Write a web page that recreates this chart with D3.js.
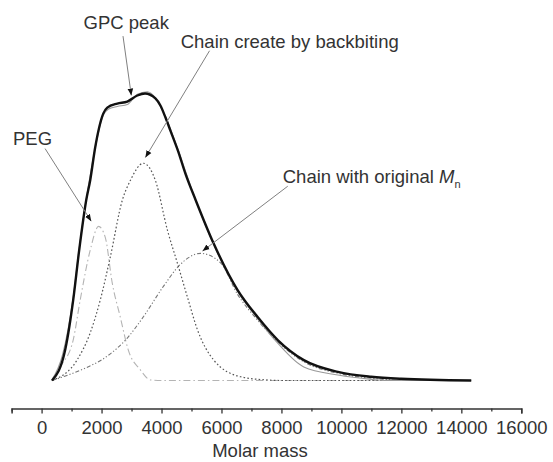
<!DOCTYPE html>
<html>
<head>
<meta charset="utf-8">
<script src="https://cdn.jsdelivr.net/npm/d3@7"></script>
<style>
  html, body { margin: 0; padding: 0; background: #fff; }
  svg { display: block; }
  text { font-family: "Liberation Sans", Arial, Helvetica, sans-serif; fill: #333; }
</style>
</head>
<body>
<svg id="chart" width="553" height="462"></svg>
<script>
// ---- Data (molar mass, normalized intensity) ----
const sumMass = [350, 786, 1054, 1254, 1488, 1622, 1789, 2057, 2191, 2525, 2860, 3194, 3450, 3796, 3963, 4130, 4300, 4550, 4800, 5134, 5736, 6538, 7207, 7876, 8746, 9883, 10987, 11990, 14331];
const sumValue = [0, 0.106, 0.28, 0.454, 0.628, 0.698, 0.813, 0.93, 0.951, 0.965, 0.972, 0.993, 1.0, 0.983, 0.958, 0.917, 0.87, 0.8, 0.72, 0.63, 0.478, 0.315, 0.221, 0.141, 0.071, 0.03, 0.013, 0.006, 0];

const gpcMass = [330, 700, 1054, 1254, 1488, 1789, 2057, 2224, 2525, 2860, 3194, 3528, 3796, 4130, 4532, 5134, 5736, 6538, 7207, 7876, 8746, 9883, 11000, 11500, 14331];
const gpcValue = [0, 0.09, 0.29, 0.46, 0.63, 0.81, 0.925, 0.945, 0.955, 0.962, 0.997, 1.006, 0.985, 0.92, 0.81, 0.63, 0.475, 0.31, 0.215, 0.13, 0.047, 0.019, 0.004, 0, 0];

const pegMass = [350, 619, 1054, 1287, 1622, 1900, 2124, 2358, 2625, 2893, 3294, 3629, 4000, 12000];
const pegValue = [0, 0.047, 0.141, 0.28, 0.454, 0.537, 0.499, 0.339, 0.221, 0.106, 0.037, 0.002, 0, 0];

const backbitingMass = [350, 1187, 1622, 1956, 2291, 2692, 2960, 3395, 3796, 4197, 4532, 4866, 5201, 5735, 6638, 7500, 8000, 12000];
const backbitingValue = [0, 0.072, 0.166, 0.28, 0.43, 0.628, 0.697, 0.757, 0.697, 0.524, 0.408, 0.29, 0.176, 0.072, 0.013, 0.002, 0, 0];

const originalMass = [350, 720, 1389, 2191, 2860, 3395, 4063, 4632, 5301, 5969, 6538, 7207, 7876, 8746, 9883, 10987, 12000];
const originalValue = [0, 0.013, 0.04, 0.085, 0.148, 0.222, 0.328, 0.405, 0.443, 0.41, 0.30, 0.21, 0.135, 0.065, 0.025, 0.008, 0];

const majorTicks = [0, 2000, 4000, 6000, 8000, 10000, 12000, 14000, 16000];
const minorTicks = [-1000, 1000, 3000, 5000, 7000, 9000, 11000, 13000, 15000];
const xTitle = "Molar mass";

// annotations: label, text anchor (mass, value), arrow start, arrow tip
const annotations = [
  { label: "GPC peak", tx: 1400, ty: 1.226, sx: 2716, sy: 1.20, ex: 2993, ey: 0.993 },
  { label: "Chain create by backbiting", tx: 4640, ty: 1.159, sx: 5602, sy: 1.149, ex: 3462, ey: 0.777 },
  { label: "PEG", tx: -953, ty: 0.820, sx: 117, sy: 0.808, ex: 1656, ey: 0.555 },
  { label: "Chain with original ", sub: true, tx: 8044, ty: 0.687, sx: 8211, sy: 0.677, ex: 5368, ey: 0.451 }
];

// ---- Scales ----
const svg = d3.select("#chart");
const x = d3.scaleLinear().domain([-1000, 16000]).range([11.6, 521.3]);
const y = d3.scaleLinear().domain([0, 1]).range([380.5, 93.5]);
const axisY = 408.5;
const fs = 18.5;

const zip = (a, b) => a.map((m, i) => [m, b[i]]);
const line = d3.line().x(d => x(d[0])).y(d => y(d[1])).curve(d3.curveMonotoneX);

// ---- Component curves ----
svg.append("path").attr("d", line(zip(pegMass, pegValue)))
  .attr("fill", "none").attr("stroke", "#b4b4b4").attr("stroke-width", 1.1)
  .attr("stroke-dasharray", "7,3,1.5,3");
svg.append("path").attr("d", line(zip(originalMass, originalValue)))
  .attr("fill", "none").attr("stroke", "#777").attr("stroke-width", 1.1)
  .attr("stroke-dasharray", "4,2,1.2,2,1.2,2");
svg.append("path").attr("d", line(zip(backbitingMass, backbitingValue)))
  .attr("fill", "none").attr("stroke", "#555").attr("stroke-width", 1.2)
  .attr("stroke-dasharray", "1.6,2.2");

// ---- GPC measured & fitted sum ----
svg.append("path").attr("d", line(zip(gpcMass, gpcValue)))
  .attr("fill", "none").attr("stroke", "#999").attr("stroke-width", 1.1);
svg.append("path").attr("d", line(zip(sumMass, sumValue)))
  .attr("fill", "none").attr("stroke", "#111").attr("stroke-width", 2.4)
  .attr("stroke-linejoin", "round");

// ---- Arrow marker ----
svg.append("defs").append("marker")
  .attr("id", "arrow").attr("viewBox", "0 0 10 10")
  .attr("refX", 10).attr("refY", 5)
  .attr("markerWidth", 7).attr("markerHeight", 7)
  .attr("markerUnits", "userSpaceOnUse")
  .attr("orient", "auto")
  .append("path").attr("d", "M0,1 L10,5 L0,9 Z").attr("fill", "#111");

// ---- Annotations ----
annotations.forEach(a => {
  svg.append("line")
    .attr("x1", x(a.sx)).attr("y1", y(a.sy))
    .attr("x2", x(a.ex)).attr("y2", y(a.ey))
    .attr("stroke", "#808080").attr("stroke-width", 1)
    .attr("marker-end", "url(#arrow)");
  const t = svg.append("text")
    .attr("x", x(a.tx)).attr("y", y(a.ty))
    .attr("font-size", fs);
  t.append("tspan").text(a.label);
  if (a.sub) {
    t.append("tspan").attr("font-style", "italic").text("M");
    t.append("tspan").attr("font-size", 11).attr("dy", 5).text("n");
  }
});

// ---- X axis ----
const axisMajor = d3.axisBottom(x).tickValues(majorTicks).tickSize(5).tickPadding(7)
  .tickFormat(d3.format("d"));
const gx = svg.append("g").attr("transform", `translate(0,${axisY})`).call(axisMajor);
gx.select(".domain").attr("stroke", "#333").attr("stroke-width", 1.5);
gx.selectAll(".tick line").attr("stroke", "#333").attr("stroke-width", 1.3);
gx.selectAll(".tick text").attr("font-size", fs).attr("fill", "#333")
  .attr("font-family", "Liberation Sans, Arial, sans-serif");

const axisMinor = d3.axisBottom(x).tickValues(minorTicks).tickSize(3).tickFormat("");
const gm = svg.append("g").attr("transform", `translate(0,${axisY})`).call(axisMinor);
gm.select(".domain").remove();
gm.selectAll(".tick line").attr("stroke", "#333").attr("stroke-width", 1.3);

svg.append("text")
  .attr("x", 260).attr("y", 457)
  .attr("text-anchor", "middle").attr("font-size", fs)
  .text(xTitle);
</script>
</body>
</html>
